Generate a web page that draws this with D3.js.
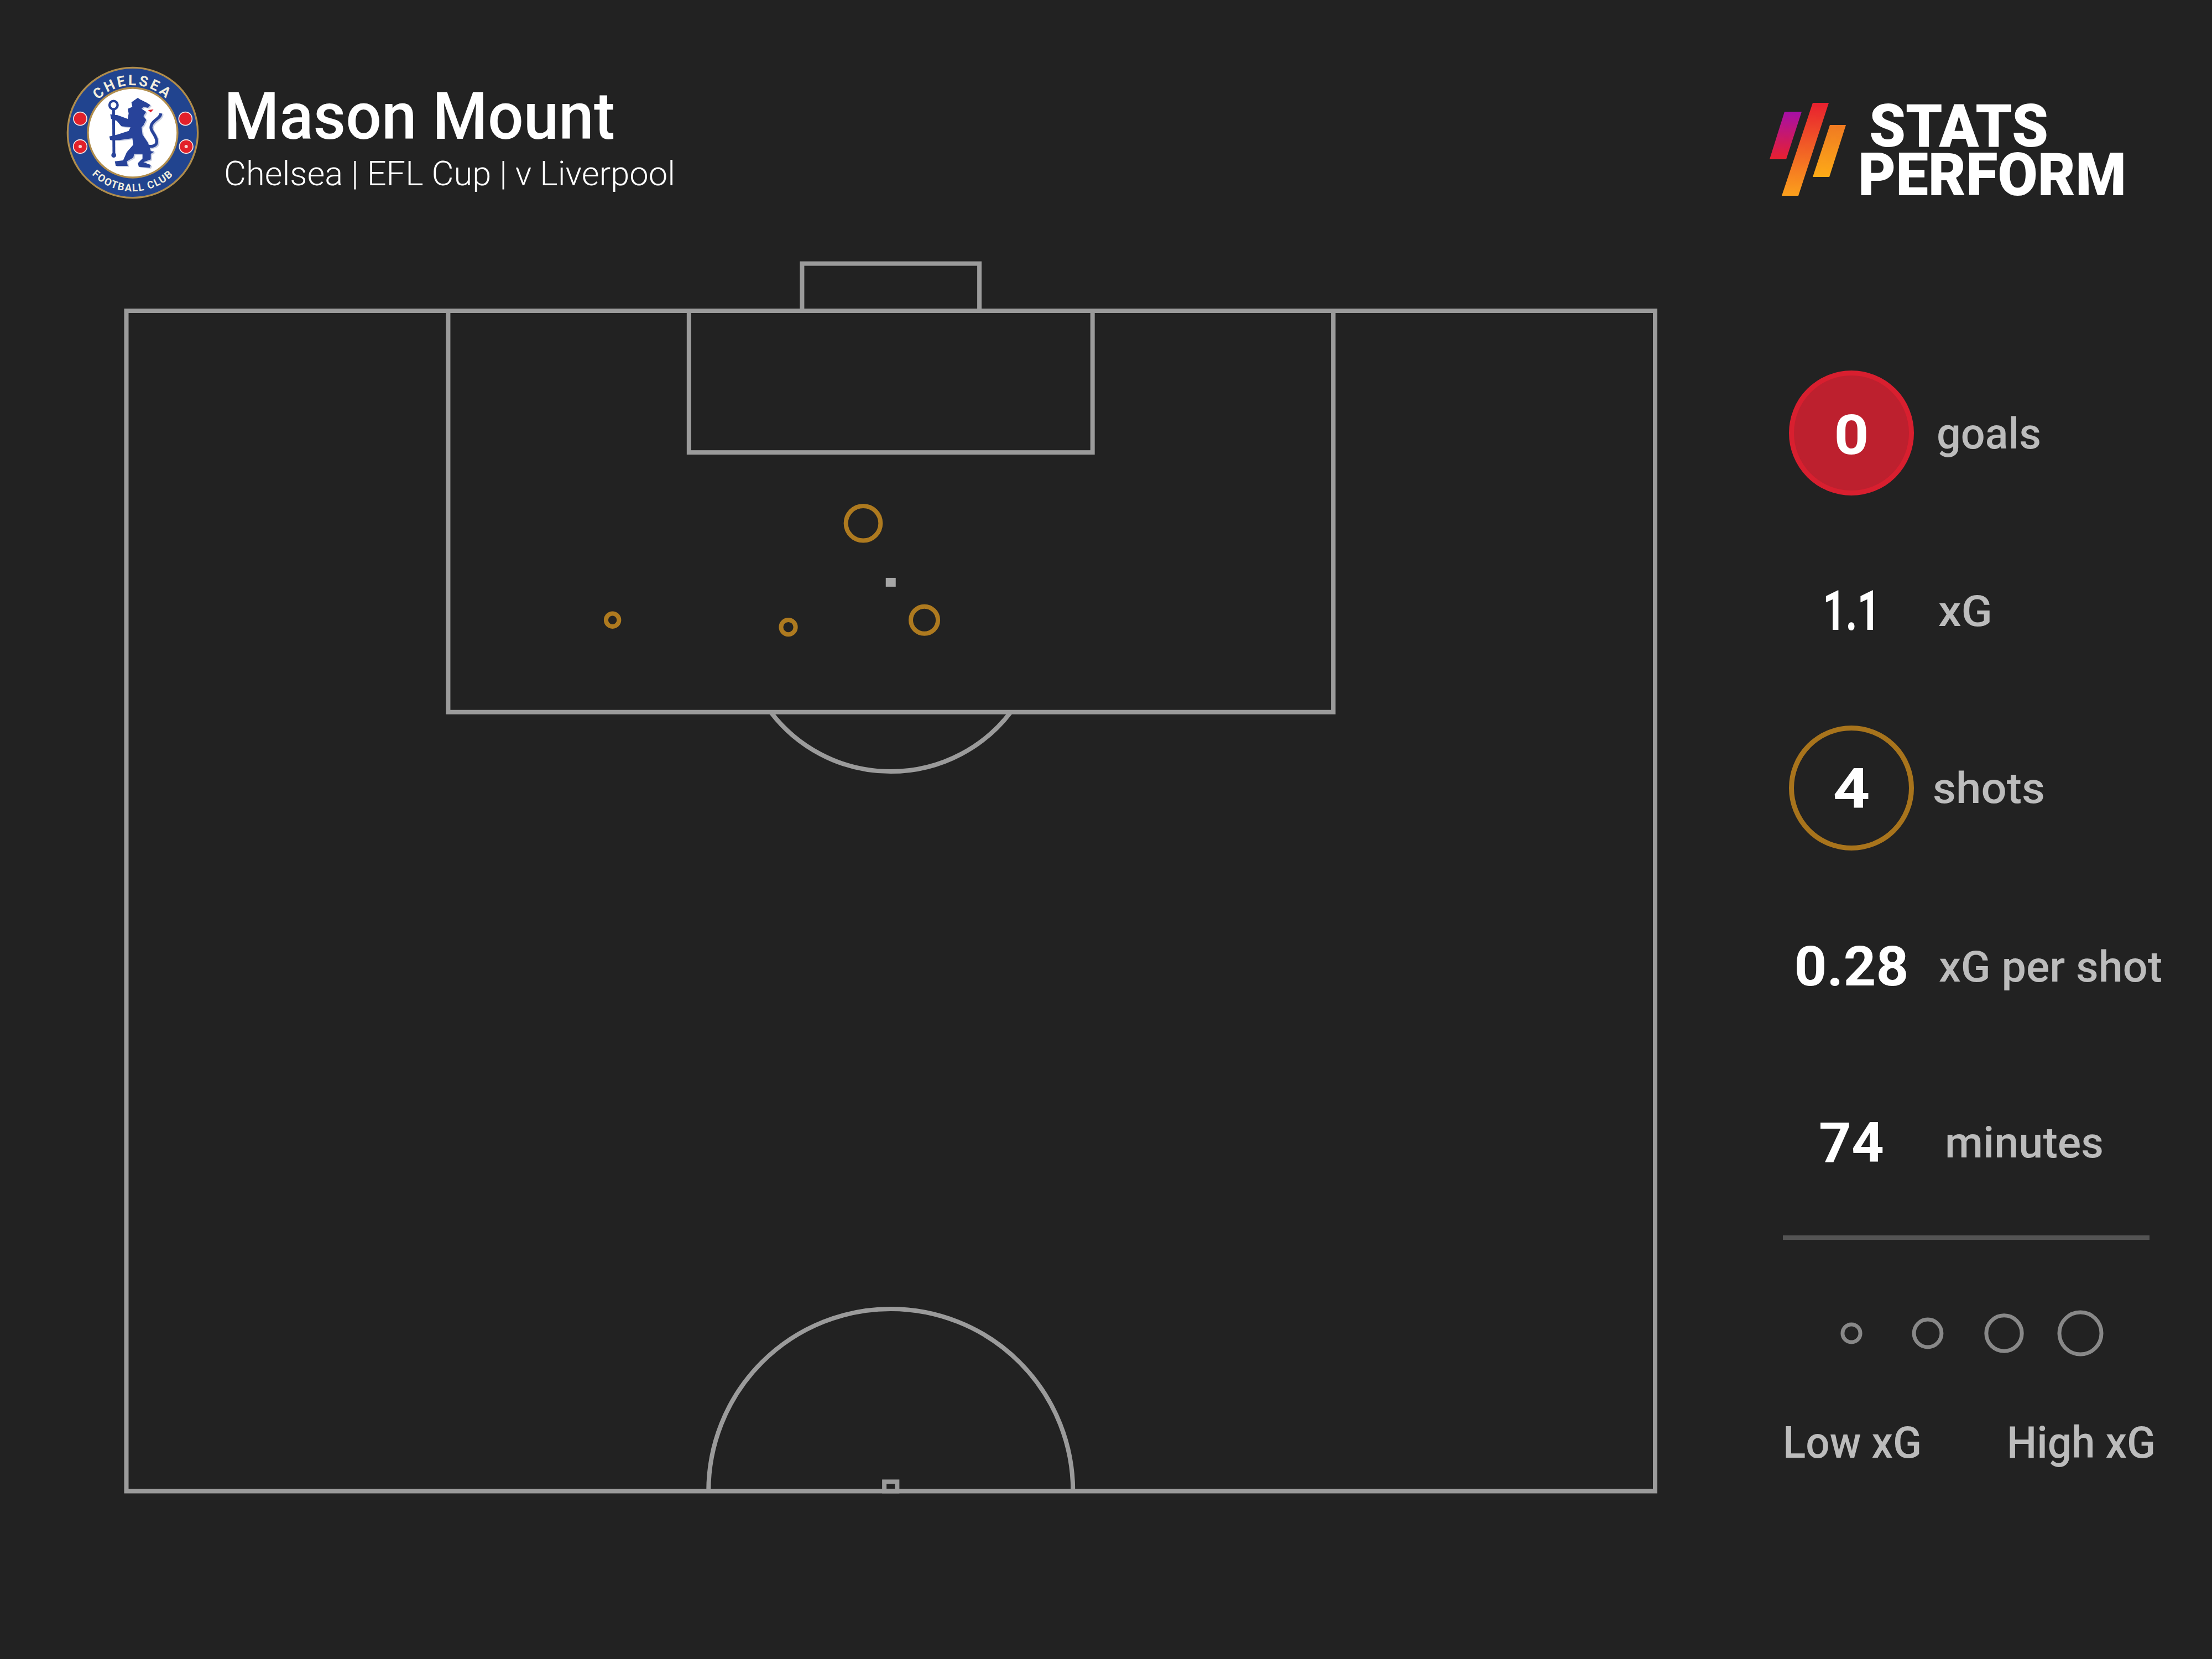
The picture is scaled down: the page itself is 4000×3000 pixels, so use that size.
<!DOCTYPE html>
<html>
<head>
<meta charset="utf-8">
<title>Mason Mount shot map</title>
<script src="https://cdn.jsdelivr.net/npm/d3@7/dist/d3.min.js"></script>
<style>
  html, body { margin: 0; padding: 0; background: #222222; }
  svg { display: block; }
  text { font-family: Roboto, "Noto Sans", sans-serif; }
</style>
</head>
<body>
<div id="chart"></div>
<script>
const playerName = "Mason Mount";
const matchInfo = "Chelsea | EFL Cup | v Liverpool";

// shots, pitch units (0-100 across, 50-100 towards goal)
const shotAcross = [48.2, 52.2, 43.3, 31.8];
const shotLength = [91.0, 86.9, 86.6, 86.9];
const shotXG = [0.57, 0.35, 0.10, 0.08];

const statValues = ["0", "1.1", "4", "0.28", "74"];
const statLabels = ["goals", "xG", "shots", "xG per shot", "minutes"];

const legendXG = [0.15, 0.36, 0.6, 0.84];
const legendLabels = ["Low xG", "High xG"];

const width = 4000;
const height = 3000;
const lineColor = "#9b9b9b";
const shotColor = "#ae7a1f";
const labelColor = "#bcbcbc";

const x = d3.scaleLinear().domain([0, 100]).range([228.5, 2993]);
const y = d3.scaleLinear().domain([100, 50]).range([562, 2696.5]);
const radius = d3.scaleSqrt().domain([0, 1]).range([0, 41.5]);
const statY = d3.scalePoint().domain(statLabels).range([783, 2067]);
const legendX = d3.scalePoint().domain(legendXG).range([3348, 3762]);

const svg = d3.select("#chart").append("svg")
  .attr("width", width)
  .attr("height", height)
  .attr("viewBox", `0 0 ${width} ${height}`);

svg.append("rect").attr("width", width).attr("height", height).attr("fill", "#222222");

// textLength includes the side bearings, so the fit is opened up a little
function addText(parent, str, px, py, size, weight, fill, len, anchor) {
  const t = parent.append("text")
    .attr("x", anchor ? px : px - 4)
    .attr("y", py)
    .attr("font-size", size)
    .attr("font-weight", weight)
    .attr("fill", fill)
    .attr("text-anchor", anchor || "start")
    .text(str);
  if (len) {
    t.attr("textLength", len + 9).attr("lengthAdjust", "spacingAndGlyphs");
  }
  return t;
}

function drawPitch() {
  const g = svg.append("g")
    .attr("fill", "none")
    .attr("stroke", lineColor)
    .attr("stroke-width", 8);
  const box = (x0, x1, y0, y1) => g.append("rect")
    .attr("x", x(x0))
    .attr("y", y(y1))
    .attr("width", x(x1) - x(x0))
    .attr("height", y(y0) - y(y1));

  box(0, 100, 50, 100);
  box(21.05, 78.95, 83, 100);
  box(36.8, 63.2, 94, 100);
  box(44.2, 55.8, 100, 102);
  box(49.58, 50.42, 50, 50.4);

  // the D on the penalty box
  g.append("path")
    .attr("d", `M${x(42.15)},${y(83)} A273,273 0 0 0 ${x(57.85)},${y(83)}`);
  // centre circle, cut off at halfway
  g.append("path")
    .attr("d", `M${x(38.08)},${y(50)} A329.5,329.5 0 0 1 ${x(61.92)},${y(50)}`);

  svg.append("rect")
    .attr("x", x(50) - 9)
    .attr("y", y(88.5) - 8)
    .attr("width", 18)
    .attr("height", 16)
    .attr("fill", "#a6a6a6");
}

function drawShots() {
  svg.append("g").selectAll("circle")
    .data(shotXG)
    .join("circle")
    .attr("cx", (d, i) => x(shotAcross[i]))
    .attr("cy", (d, i) => y(shotLength[i]))
    .attr("r", d => radius(d))
    .attr("fill", "none")
    .attr("stroke", shotColor)
    .attr("stroke-width", 8);
}

function drawStats() {
  const g = svg.append("g");
  const cx = 3348;

  g.append("circle")
    .attr("cx", cx).attr("cy", statY("goals")).attr("r", 108.5)
    .attr("fill", "#bd202e").attr("stroke", "#d81f2f").attr("stroke-width", 9);
  g.append("circle")
    .attr("cx", cx).attr("cy", statY("shots")).attr("r", 108.5)
    .attr("fill", "none").attr("stroke", "#a8741c").attr("stroke-width", 9);

  // widths and starts are read per row, the type is set differently on each
  const valueFit = [[54, 38], [95, 35], [58, 36], [198, 36], [109, 34]];
  const labelFit = [[3506, 180, 28], [3509, 89, 28], [3499, 194, 27], [3510, 395, 29], [3521, 278, 26]];

  statValues.forEach((v, i) => {
    const cy = statY(statLabels[i]);
    addText(g, v, cx, cy + valueFit[i][1], 101, 700, "#ffffff", valueFit[i][0], "middle");
    addText(g, statLabels[i], labelFit[i][0], cy + labelFit[i][2], 78, 500, labelColor, labelFit[i][1]);
  });

  g.append("line")
    .attr("x1", 3224).attr("x2", 3887)
    .attr("y1", 2238).attr("y2", 2238)
    .attr("stroke", "#545454").attr("stroke-width", 8);
}

function drawLegend() {
  const g = svg.append("g");
  g.selectAll("circle")
    .data(legendXG)
    .join("circle")
    .attr("cx", d => legendX(d))
    .attr("cy", 2411)
    .attr("r", d => radius(d))
    .attr("fill", "none")
    .attr("stroke", "#888888")
    .attr("stroke-width", 7);
  addText(g, legendLabels[0], 3228, 2636, 79, 500, labelColor, 242);
  addText(g, legendLabels[1], 3633, 2636, 79, 500, labelColor, 260);
}

function drawHeader() {
  addText(svg, playerName, 409, 251, 119, 500, "#ffffff", 698);
  addText(svg, matchInfo, 409, 335, 62, 300, "#ffffff", 807);
}

function drawCrest() {
  // drawn in a 750 box, then scaled down to the header
  const g = svg.append("g").attr("transform", "translate(116,115) scale(0.3333)");
  const c = [372, 375];
  const ring = (r, fill) => g.append("circle").attr("cx", c[0]).attr("cy", c[1]).attr("r", r).attr("fill", fill);
  ring(358, "#b08d4c");
  ring(348, "#21448f");
  ring(248, "#b08d4c");
  ring(238, "#ffffff");

  const defs = g.append("defs");
  defs.append("path").attr("id", "crest-top")
    .attr("d", `M${c[0] - 258},${c[1]} A258,258 0 0 1 ${c[0] + 258},${c[1]}`);
  defs.append("path").attr("id", "crest-bottom")
    .attr("d", `M${c[0] - 318},${c[1]} A318,318 0 0 0 ${c[0] + 318},${c[1]}`);

  g.append("text")
    .attr("font-size", 78).attr("font-weight", 700).attr("fill", "#f2eedd")
    .attr("text-anchor", "middle").attr("letter-spacing", 12)
    .append("textPath").attr("href", "#crest-top").attr("startOffset", "50%")
    .text("CHELSEA");
  g.append("text")
    .attr("font-size", 56).attr("font-weight", 700).attr("fill", "#f2eedd")
    .attr("text-anchor", "middle").attr("letter-spacing", 5)
    .append("textPath").attr("href", "#crest-bottom").attr("startOffset", "50%")
    .text("FOOTBALL CLUB");

  [[87, 299, 36], [658, 299, 36], [87, 450, 37], [662, 450, 37]].forEach(([px, py, r]) => {
    g.append("circle").attr("cx", px).attr("cy", py).attr("r", r)
      .attr("fill", "#e2202a").attr("stroke", "#f3e6e6").attr("stroke-width", 5);
  });
  [[87, 450], [662, 450]].forEach(([px, py]) => {
    g.append("circle").attr("cx", px).attr("cy", py).attr("r", 9).attr("fill", "#f6d0d0");
  });

  const lion = "M400,185 C415,200 440,205 468,225 L455,240 L430,235 L420,245 L445,262 L430,285 L445,305 L430,335 L420,345 L425,385 L455,430 L470,475 L490,478 L470,490 L470,520 L430,535 L470,550 L465,565 L405,560 L400,540 L425,515 L425,490 L380,490 L375,510 L340,530 L345,555 L280,555 L275,530 L320,525 L340,480 L375,440 L370,405 L300,415 L250,415 L245,395 L290,385 L350,365 L360,345 L310,340 L285,310 L255,300 L250,275 L290,280 L345,300 L350,270 L345,245 L370,235 L365,210 Z";
  const tail = "M430,440 C480,460 510,445 500,410 C490,375 460,360 475,330 C490,300 520,300 525,270";
  g.append("path").attr("d", lion).attr("fill", "#c9cfe2").attr("transform", "translate(7,5)");
  g.append("path").attr("d", tail).attr("fill", "none").attr("stroke", "#c9cfe2").attr("stroke-width", 16).attr("transform", "translate(7,5)");
  g.append("line").attr("x1", 268).attr("y1", 250).attr("x2", 270).attr("y2", 505)
    .attr("stroke", "#28439a").attr("stroke-width", 15);
  g.append("circle").attr("cx", 268).attr("cy", 225).attr("r", 22)
    .attr("fill", "none").attr("stroke", "#28439a").attr("stroke-width", 13);
  g.append("circle").attr("cx", 269).attr("cy", 497).attr("r", 13).attr("fill", "#28439a");
  g.append("path").attr("d", lion).attr("fill", "#28439a");
  g.append("path").attr("d", tail).attr("fill", "none").attr("stroke", "#28439a").attr("stroke-width", 16);
  g.append("path").attr("d", "M455,252 L485,248 L470,265 Z").attr("fill", "#e2202a");
}

function drawBrand() {
  const defs = svg.append("defs");
  const marks = [
    { id: "brand-a", pts: [[3227, 202], [3258, 202], [3230, 288], [3200, 288]], top: "#a60fa8", bottom: "#e8202f" },
    { id: "brand-b", pts: [[3278, 186], [3307, 186], [3252, 354], [3222, 354]], top: "#e8202f", bottom: "#fba01c" },
    { id: "brand-c", pts: [[3309, 226], [3338, 226], [3308, 320], [3278, 320]], top: "#f07a22", bottom: "#fdab17" }
  ];
  marks.forEach(m => {
    const grad = defs.append("linearGradient").attr("id", m.id)
      .attr("x1", 0).attr("y1", 0).attr("x2", 0).attr("y2", 1);
    grad.append("stop").attr("offset", "0%").attr("stop-color", m.top);
    grad.append("stop").attr("offset", "100%").attr("stop-color", m.bottom);
    svg.append("polygon")
      .attr("points", m.pts.map(p => p.join(",")).join(" "))
      .attr("fill", `url(#${m.id})`);
  });
  addText(svg, "STATS", 3384, 265, 108, 900, "#ffffff", 315);
  addText(svg, "PERFORM", 3364, 353, 108, 900, "#ffffff", 476);
}

drawPitch();
drawShots();
drawStats();
drawLegend();
drawHeader();
drawCrest();
drawBrand();
</script>
</body>
</html>
